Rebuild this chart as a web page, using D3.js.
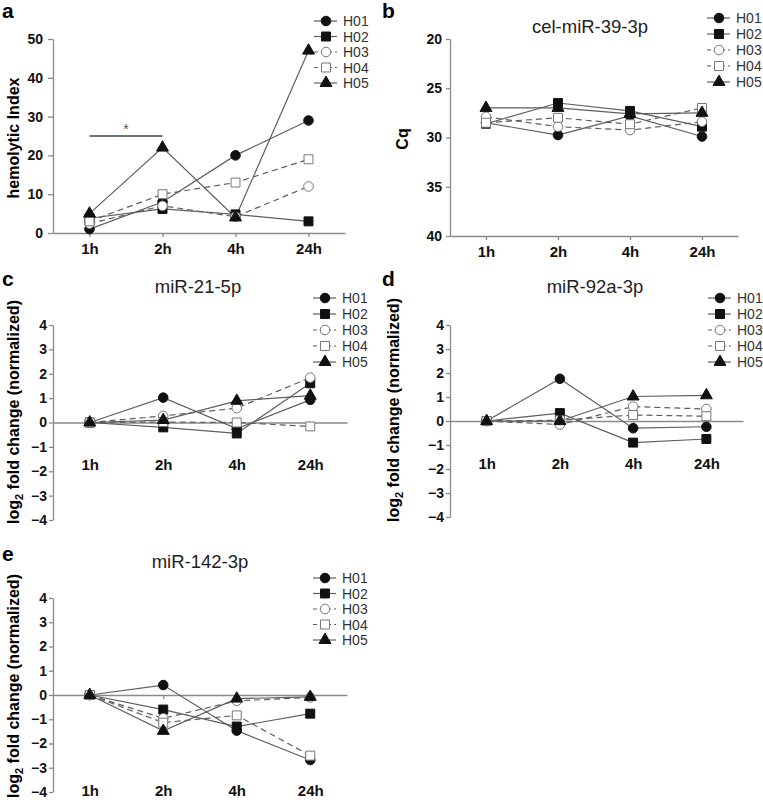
<!DOCTYPE html>
<html>
<head>
<meta charset="utf-8">
<script src="https://cdn.jsdelivr.net/npm/d3@7"></script>
<style>
  body { margin: 0; background: #fff; }
  svg { font-family: "Liberation Sans", Arial, sans-serif; }
  .axis path, .axis line { stroke: #8a8a8a; stroke-width: 1.3; }
  .axis text { font-size: 14px; font-weight: bold; fill: #111; }
  .xaxis text { font-size: 15px; }
</style>
</head>
<body>
<script>
// time points and donors
const timepoints = ["1h", "2h", "4h", "24h"];
const donors = ["H01", "H02", "H03", "H04", "H05"];

// one row per donor (H01..H05), one value per time point
const hemolyticIndex = [
  [1, 8, 20, 29],
  [3.8, 6.2, 4.8, 3],
  [2.4, 7, 4.2, 12],
  [3, 10, 13, 19],
  [5, 22, 4, 47]
];
const celMiR39 = [
  [28.5, 29.75, 27.8, 29.9],
  [28.6, 26.5, 27.3, 28.9],
  [27.9, 28.9, 29.25, 28.4],
  [28.5, 28.0, 28.65, 27.0],
  [27.0, 27.0, 27.6, 27.5]
];
const miR21 = [
  [0, 1.02, -0.25, 0.93],
  [0, -0.2, -0.45, 1.61],
  [0, 0.27, 0.59, 1.84],
  [0, 0.02, 0.0, -0.16],
  [0, 0.1, 0.89, 1.1]
];
const miR92a = [
  [0, 1.76, -0.3, -0.24],
  [0, 0.33, -0.9, -0.75],
  [0, -0.15, 0.6, 0.5],
  [0, 0.03, 0.25, 0.2],
  [0, 0.0, 1.02, 1.07]
];
const miR142 = [
  [0, 0.41, -1.47, -2.68],
  [0, -0.6, -1.3, -0.77],
  [0, -0.96, -0.24, -0.1],
  [0, -1.14, -0.84, -2.5],
  [0, -1.48, -0.15, -0.08]
];

const yTicksHemo = [0, 10, 20, 30, 40, 50];
const yTicksCq = [20, 25, 30, 35, 40];
const yTicksFold = [-4, -3, -2, -1, 0, 1, 2, 3, 4];

// marker and line style per donor
const shapes = [d3.symbolCircle, d3.symbolSquare, d3.symbolCircle, d3.symbolSquare, d3.symbolTriangle];
const sizes = [72, 80, 72, 80, 62];
const filled = [true, true, false, false, true];
const dashed = [false, false, true, true, false];

const panels = [
  { letter: "a", lx: 2, ly: 18, data: hemolyticIndex, x0: 53, x1: 345, yTop: 39, yBot: 233,
    domain: [0, 50], ticks: yTicksHemo, tickPad: 5, tickLen: 5,
    xAxisAt: "bottom", xPad: 6, legX: 326, legY: 21, legStep: 15.5,
    yLabel: "hemolytic Index", ylx: 19, yly: 138 },
  { letter: "b", lx: 382, ly: 18, data: celMiR39, x0: 450, x1: 738, yTop: 39, yBot: 236,
    domain: [40, 20], ticks: yTicksCq, tickPad: 4, tickLen: 4,
    xAxisAt: "bottom", xPad: 6, legX: 719, legY: 18, legStep: 16,
    title: "cel-miR-39-3p", tx: 590, ty: 33,
    yLabel: "Cq", ylx: 408, yly: 139 },
  { letter: "c", lx: 2, ly: 286, data: miR21, x0: 53, x1: 347, yTop: 325, yBot: 520,
    domain: [-4, 4], ticks: yTicksFold, tickPad: 2, tickLen: 4,
    xAxisAt: "zero", xPad: 33, legX: 325, legY: 298, legStep: 16,
    title: "miR-21-5p", tx: 198, ty: 293, log: true, ylx: 19, yly: 412 },
  { letter: "d", lx: 382, ly: 286, data: miR92a, x0: 450, x1: 743, yTop: 325, yBot: 517,
    domain: [-4, 4], ticks: yTicksFold, tickPad: 2, tickLen: 4,
    xAxisAt: "zero", xPad: 33, legX: 720, legY: 298, legStep: 16,
    title: "miR-92a-3p", tx: 595, ty: 293, log: true, ylx: 399, yly: 410 },
  { letter: "e", lx: 2, ly: 561, data: miR142, x0: 53, x1: 347, yTop: 598, yBot: 792,
    domain: [-4, 4], ticks: yTicksFold, tickPad: 2, tickLen: 4,
    xAxisAt: "zero", xPad: 86, legX: 325, legY: 578, legStep: 15.5,
    title: "miR-142-3p", tx: 200, ty: 568, log: true, ylx: 19, yly: 686 }
];

const svg = d3.select("body").append("svg")
  .attr("width", 763)
  .attr("height", 811);

panels.forEach(p => {
  const g = svg.append("g");

  const x = d3.scalePoint().domain(timepoints).range([p.x0, p.x1]).padding(0.5);
  const y = d3.scaleLinear().domain(p.domain).range([p.yBot, p.yTop]);

  // y axis
  g.append("g")
    .attr("class", "axis")
    .attr("transform", `translate(${p.x0},0)`)
    .call(d3.axisLeft(y).tickValues(p.ticks).tickSize(p.tickLen).tickPadding(p.tickPad).tickSizeOuter(0));

  // x axis (bottom, or along the zero line for fold changes)
  const xAxisY = p.xAxisAt === "zero" ? y(0) : p.yBot;
  g.append("g")
    .attr("class", "axis xaxis")
    .attr("transform", `translate(0,${xAxisY})`)
    .call(d3.axisBottom(x).tickSize(4).tickPadding(p.xPad).tickSizeOuter(0));

  // lines
  const line = d3.line().x((d, i) => x(timepoints[i])).y(d => y(d));
  g.selectAll("path.series")
    .data(p.data)
    .join("path")
    .attr("class", "series")
    .attr("fill", "none")
    .attr("stroke", "#5e5e5e")
    .attr("stroke-width", 1.2)
    .attr("stroke-dasharray", (d, i) => dashed[i] ? "6,4" : null)
    .attr("d", line);

  // markers
  p.data.forEach((row, i) => {
    g.selectAll(null)
      .data(row)
      .join("path")
      .attr("transform", (d, j) => `translate(${x(timepoints[j])},${y(d)})`)
      .attr("d", d3.symbol().type(shapes[i]).size(sizes[i]))
      .attr("fill", filled[i] ? "#111" : "#fff")
      .attr("stroke", filled[i] ? "#111" : "#777")
      .attr("stroke-width", 1);
  });

  // significance bar for hemolytic index (1h vs 2h)
  if (p.letter === "a") {
    g.append("line")
      .attr("x1", x("1h")).attr("x2", x("2h"))
      .attr("y1", y(25)).attr("y2", y(25))
      .attr("stroke", "#444").attr("stroke-width", 1.5);
    g.append("text")
      .attr("x", (x("1h") + x("2h")) / 2).attr("y", y(25) - 2)
      .attr("text-anchor", "middle")
      .attr("font-size", 14).attr("fill", "#555")
      .text("*");
  }

  // legend
  const leg = g.append("g");
  donors.forEach((name, i) => {
    const ly = p.legY + i * p.legStep;
    leg.append("line")
      .attr("x1", p.legX - 12).attr("x2", p.legX + 11)
      .attr("y1", ly).attr("y2", ly)
      .attr("stroke", "#5e5e5e").attr("stroke-width", 1.2)
      .attr("stroke-dasharray", dashed[i] ? "4,3" : null);
    leg.append("path")
      .attr("transform", `translate(${p.legX},${ly})`)
      .attr("d", d3.symbol().type(shapes[i]).size(sizes[i]))
      .attr("fill", filled[i] ? "#111" : "#fff")
      .attr("stroke", filled[i] ? "#111" : "#777");
    leg.append("text")
      .attr("x", p.legX + 17).attr("y", ly + 5)
      .attr("font-size", 14).attr("fill", "#333")
      .text(name);
  });

  // panel letter
  g.append("text")
    .attr("x", p.lx).attr("y", p.ly)
    .attr("font-size", 21).attr("font-weight", "bold")
    .text(p.letter);

  // title
  if (p.title) {
    g.append("text")
      .attr("x", p.tx).attr("y", p.ty)
      .attr("text-anchor", "middle")
      .attr("font-size", 18.5).attr("fill", "#222")
      .text(p.title);
  }

  // y label
  const yl = g.append("text")
    .attr("transform", `translate(${p.ylx},${p.yly}) rotate(-90)`)
    .attr("text-anchor", "middle")
    .attr("font-size", 16).attr("font-weight", "bold");
  if (p.log) {
    yl.append("tspan").text("log");
    yl.append("tspan").attr("font-size", 11).attr("dy", 4).text("2");
    yl.append("tspan").attr("dy", -4).text(" fold change (normalized)");
  } else {
    yl.text(p.yLabel);
  }
});
</script>
</body>
</html>
